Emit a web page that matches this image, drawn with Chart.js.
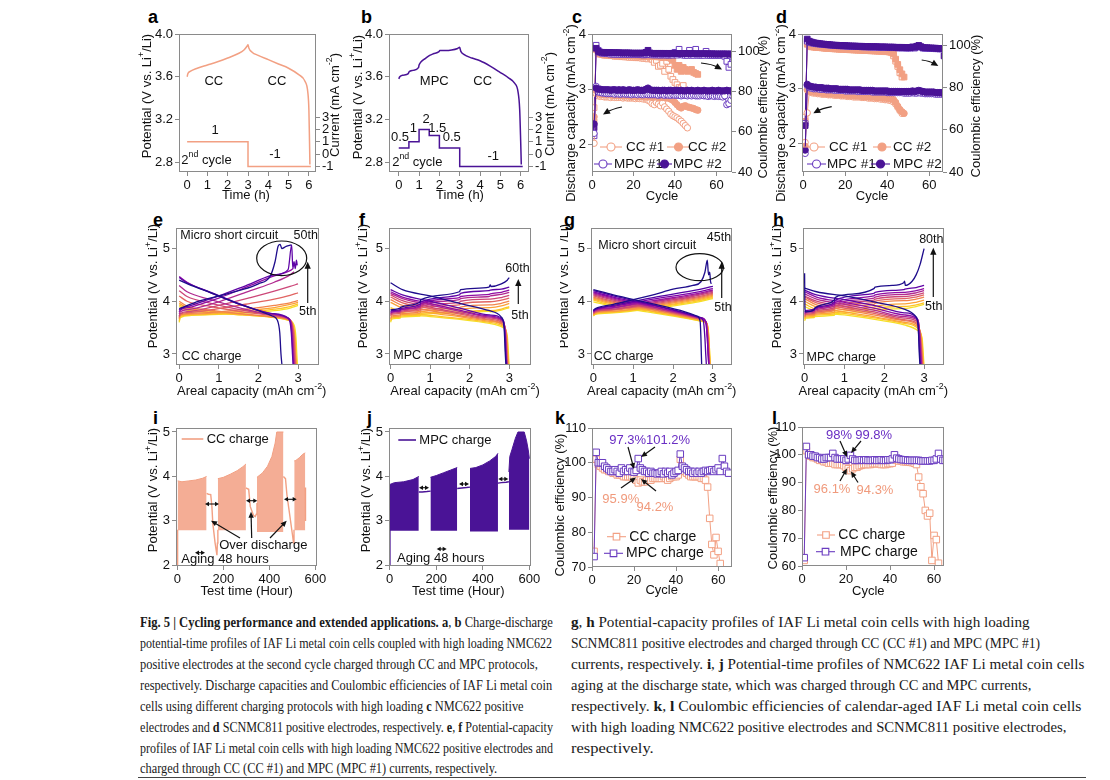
<!DOCTYPE html>
<html><head><meta charset="utf-8">
<script src="https://cdn.jsdelivr.net/npm/chart.js@4.4.1/dist/chart.umd.min.js"></script>
<style>
html,body{margin:0;padding:0;background:#fff;}
body{width:1110px;height:780px;position:relative;overflow:hidden;}
canvas{position:absolute;}
.pl{position:absolute;font:bold 18px "Liberation Sans",Arial,sans-serif;line-height:18px;color:#000;}
.cl{position:absolute;font-family:"Liberation Serif","Times New Roman",serif;font-size:14.5px;line-height:20px;white-space:nowrap;color:#1a1a1a;transform-origin:0 50%;}
.rule{position:absolute;height:1px;background:#444;}
</style></head><body>
<div class="pl" style="left:148px;top:8px">a</div>
<div class="pl" style="left:361px;top:8px">b</div>
<div class="pl" style="left:572px;top:8px">c</div>
<div class="pl" style="left:776px;top:8px">d</div>
<div class="pl" style="left:153px;top:211px">e</div>
<div class="pl" style="left:359px;top:211px">f</div>
<div class="pl" style="left:564px;top:211px">g</div>
<div class="pl" style="left:773px;top:211px">h</div>
<div class="pl" style="left:153px;top:409px">i</div>
<div class="pl" style="left:367px;top:409px">j</div>
<div class="pl" style="left:555px;top:409px">k</div>
<div class="pl" style="left:772px;top:409px">l</div>

<div class="cl" data-end="553" style="left:140px;top:612px"><b>Fig. 5 | Cycling performance and extended applications. a</b>, <b>b</b> Charge-discharge</div>
<div class="cl" data-end="552" style="left:140px;top:633px">potential-time profiles of IAF Li metal coin cells coupled with high loading NMC622</div>
<div class="cl" data-end="538" style="left:140px;top:654px">positive electrodes at the second cycle charged through CC and MPC protocols,</div>
<div class="cl" data-end="552" style="left:140px;top:675px">respectively. Discharge capacities and Coulombic efficiencies of IAF Li metal coin</div>
<div class="cl" data-end="524" style="left:140px;top:696px">cells using different charging protocols with high loading <b>c</b> NMC622 positive</div>
<div class="cl" data-end="553" style="left:140px;top:717px">electrodes and <b>d</b> SCNMC811 positive electrodes, respectively. <b>e</b>, <b>f</b> Potential-capacity</div>
<div class="cl" data-end="553" style="left:140px;top:738px">profiles of IAF Li metal coin cells with high loading NMC622 positive electrodes and</div>
<div class="cl" data-end="497" style="left:140px;top:758px">charged through CC (CC #1) and MPC (MPC #1) currents, respectively.</div>

<div class="cl" data-end="1030" style="left:571px;top:612px"><b>g</b>, <b>h</b> Potential-capacity profiles of IAF Li metal coin cells with high loading</div>
<div class="cl" data-end="1040" style="left:571px;top:633px">SCNMC811 positive electrodes and charged through CC (CC #1) and MPC (MPC #1)</div>
<div class="cl" data-end="1084" style="left:571px;top:654px">currents, respectively. <b>i</b>, <b>j</b> Potential-time profiles of NMC622 IAF Li metal coin cells</div>
<div class="cl" data-end="1031" style="left:571px;top:675px">aging at the discharge state, which was charged through CC and MPC currents,</div>
<div class="cl" data-end="1081" style="left:571px;top:696px">respectively. <b>k</b>, <b>l</b> Coulombic efficiencies of calendar-aged IAF Li metal coin cells</div>
<div class="cl" data-end="1066" style="left:571px;top:717px">with high loading NMC622 positive electrodes and SCNMC811 positive electrodes,</div>
<div class="cl" data-end="654" style="left:571px;top:738px">respectively.</div>
<div class="rule" style="left:138px;top:777px;width:948px"></div>

<script>
// ================= DATA =================
// a, b : potential (V) vs time (h) and current (mA cm-2) vs time
const A_V = [[0,3.6],[0.04,3.63],[0.15,3.65],[0.5,3.68],[1,3.71],[1.5,3.74],[2,3.775],[2.5,3.815],[2.8,3.85],[2.95,3.885],[3.0,3.9],[3.04,3.87],[3.2,3.83],[3.5,3.8],[4,3.76],[4.5,3.72],[5,3.68],[5.5,3.62],[5.8,3.56],[5.95,3.45],[6.0,3.29],[6.03,3.0],[6.05,2.78]];
const A_I = [[0,1],[3,1],[3,-1],[6.1,-1]];
const B_V = [[0,3.58],[0.05,3.6],[0.2,3.615],[0.47,3.63],[0.5,3.645],[0.7,3.66],[0.97,3.685],[1.0,3.71],[1.1,3.74],[1.3,3.77],[1.48,3.795],[1.52,3.8],[1.7,3.815],[1.98,3.835],[2.02,3.845],[2.3,3.845],[2.6,3.85],[2.9,3.865],[3.0,3.875],[3.05,3.84],[3.2,3.81],[3.6,3.775],[4.0,3.75],[4.5,3.7],[5.0,3.64],[5.4,3.59],[5.7,3.54],[5.87,3.46],[5.95,3.3],[6.0,3.0],[6.03,2.78]];
const B_I = [[0,0.5],[0.5,0.5],[0.5,1],[1,1],[1,2],[1.5,2],[1.5,1.5],[2,1.5],[2,0.5],[3,0.5],[3,-1],[6.1,-1]];

// c : discharge capacity (mAh cm-2) and CE (%) per cycle (cycle = index+1), NMC622
const C_CAP_CC1 = [2.02,2.92,2.88,2.87,2.87,2.86,2.86,2.86,2.85,2.86,2.85,2.85,2.85,2.85,2.84,2.85,2.84,2.84,2.84,2.84,2.83,2.84,2.83,2.83,2.82,2.82,2.8,2.78,2.74,2.72,2.76,2.73,2.7,2.75,2.68,2.64,2.6,2.55,2.52,2.5,2.48,2.45,2.42,2.38,2.34,2.3];
const C_CAP_CC2 = [2.5,2.98,2.92,2.91,2.91,2.9,2.9,2.9,2.9,2.89,2.89,2.89,2.89,2.88,2.88,2.88,2.88,2.88,2.87,2.87,2.87,2.87,2.87,2.87,2.86,2.86,2.86,2.86,2.86,2.86,2.86,2.85,2.85,2.85,2.85,2.84,2.84,2.82,2.8,2.76,2.72,2.68,2.66,2.69,2.7,2.68,2.67,2.66,2.65,2.63,2.62];
const C_CAP_MPC1 = [2.2,3.05,2.95,2.94,2.93,2.93,2.92,2.92,2.92,2.92,2.91,2.92,2.91,2.91,2.92,2.91,2.91,2.91,2.9,2.91,2.91,2.9,2.91,2.9,2.9,2.91,2.9,2.9,2.9,2.9,2.9,2.89,2.9,2.9,2.89,2.9,2.89,2.89,2.9,2.89,2.89,2.89,2.88,2.89,2.89,2.88,2.89,2.88,2.89,2.88,2.88,2.88,2.89,2.88,2.88,2.87,2.88,2.88,2.87,2.88,2.87,2.87,2.86,2.88,2.72,2.74,2.8,2.87];
const C_CAP_MPC2 = [2.37,3.02,3.0,3.0,2.99,2.99,2.99,2.99,2.98,2.99,2.99,2.98,2.99,2.98,2.99,2.98,2.98,2.99,2.98,2.98,2.98,2.99,2.98,2.98,2.98,3.0,3.02,2.99,2.98,2.98,2.98,2.98,2.97,2.98,2.98,2.97,2.98,2.98,2.97,2.98,2.98,2.97,2.98,2.97,2.97,2.98,2.97,2.98,2.97,2.97,2.98,2.97,2.97,2.98,2.97,2.97,2.97,2.98,2.97,2.97,2.98,2.97,2.97,2.97,2.98,2.97,2.97,2.98];
const C_CE_CC1 = [72,101,99,98.5,98.5,98,98,98,97.8,97.8,97.5,97.5,97.5,97.3,97.3,97.2,97.2,97,97,97,96.8,96.8,96.8,96.6,96.5,96.5,96.2,96.7,96,94.5,95.5,92.5,93,94,90,95,91,87.6,86,84.5,83.4,82,81.8,83,80.5,79.5];
const C_CE_CC2 = [65,101,99,98.8,98.5,98.5,98.3,98.3,98.2,98.2,98,98,98,97.9,97.9,97.8,97.8,97.8,97.7,97.7,97.6,97.6,97.6,97.5,97.5,97.5,97.4,97.4,97.4,97.3,97.3,97.2,97.2,97.2,97.1,97,96.8,96.5,95.5,93,91,93,90,92,91,90,90.5,91,89.5,89,88.5];
const C_CE_MPC1 = [58,103,100.5,99.5,99,99,98.8,98.8,98.6,98.6,98.5,98.5,98.5,98.4,98.5,98.4,98.4,98.3,98.4,98.3,98.4,98.3,98.3,98.3,98.2,98.3,99,98.3,98.2,98.2,98.2,98.2,98.1,98.2,98.2,98.1,98.1,98.2,98.1,99.5,98.1,101,98.4,98.1,98,98,100.5,98,98,101,98,98,98,98,100,98,97.9,98,97.9,98,97.9,98,98.5,97.5,95,92,93.5,97];
const C_CE_MPC2 = [62,101.5,100,99.6,99.5,99.5,99.4,99.4,99.4,99.3,99.3,99.3,99.3,99.2,99.2,99.2,99.2,99.2,99.1,99.1,99.1,99.1,99.1,99.1,99.1,99.5,100.5,99.2,99,99,99,99,99,99,99,98.9,99,98.9,99,98.9,98.9,98.9,98.9,98.9,98.9,98.9,98.8,98.9,98.8,98.8,98.8,98.8,98.8,98.8,98.8,98.8,98.7,98.8,98.7,98.7,98.7,98.7,98.7,98.7,98.7,98.6,98.7,98.6];

// d : same for SCNMC811
const D_CAP_CC1 = [2.02,2.56,2.95,2.93,2.92,2.92,2.91,2.91,2.9,2.9,2.9,2.89,2.89,2.89,2.88,2.88,2.88,2.87,2.87,2.87,2.86,2.86,2.86,2.85,2.85,2.85,2.85,2.84,2.84,2.84,2.83,2.83,2.83,2.82,2.82,2.82,2.81,2.81,2.8,2.8,2.79,2.78,2.76,2.72,2.66,2.6,2.55];
const D_CAP_CC2 = [1.95,2.98,2.96,2.95,2.94,2.94,2.93,2.93,2.92,2.92,2.92,2.91,2.91,2.91,2.9,2.9,2.9,2.89,2.89,2.89,2.88,2.88,2.88,2.88,2.87,2.87,2.87,2.86,2.86,2.86,2.86,2.85,2.85,2.85,2.84,2.84,2.84,2.83,2.83,2.83,2.82,2.82,2.8,2.75,2.68,2.62,2.58,2.55];
const D_CAP_MPC1 = [1.82,3.06,3.02,3.01,3.0,3.0,3.0,2.99,2.99,2.99,2.98,2.98,2.98,2.98,2.97,2.97,2.97,2.97,2.97,2.96,2.96,2.96,2.96,2.96,2.96,2.95,2.95,2.95,2.95,2.95,2.95,2.95,2.94,2.94,2.94,2.94,2.94,2.94,2.94,2.93,2.93,2.93,2.93,2.93,2.93,2.93,2.93,2.92,2.92,2.92,2.92,2.93,2.92,2.92,2.93,2.92,2.92,2.91,2.91,2.91,2.91,2.91,2.9,2.9,2.9,2.9,2.89,2.88];
const D_CAP_MPC2 = [1.88,3.08,3.05,3.04,3.03,3.03,3.02,3.02,3.02,3.01,3.01,3.01,3.0,3.0,3.0,3.0,2.99,2.99,2.99,2.99,2.99,2.98,2.98,2.98,2.98,2.98,2.98,2.97,2.97,2.97,2.97,2.97,2.97,2.96,2.96,2.96,2.96,2.96,2.96,2.96,2.95,2.95,2.95,2.95,2.95,2.95,2.95,2.95,2.95,2.95,2.95,2.96,2.95,2.96,2.97,2.96,2.95,2.94,2.94,2.94,2.94,2.94,2.93,2.93,2.93,2.93,2.92,2.9];
const D_CE_CC1 = [66,101,99.5,99.3,99.2,99,99,98.9,98.8,98.7,98.6,98.5,98.5,98.4,98.3,98.3,98.2,98.1,98.1,98,98,97.9,97.9,97.8,97.8,97.7,97.7,97.6,97.6,97.5,97.5,97.4,97.4,97.3,97.3,97.2,97.2,97.1,97,97,96.8,96.5,95,92.5,90,87,85];
const D_CE_CC2 = [64,100.5,99.8,99.5,99.3,99.2,99.1,99,98.9,98.8,98.7,98.7,98.6,98.5,98.5,98.4,98.3,98.3,98.2,98.2,98.1,98.1,98,98,97.9,97.9,97.8,97.8,97.7,97.7,97.6,97.6,97.5,97.5,97.4,97.4,97.3,97.3,97.2,97.2,97.1,97,96,93.5,91,88.5,86.5,85];
const D_CE_MPC1 = [63,102,101.5,101.2,101,100.8,100.7,100.6,100.5,100.4,100.3,100.2,100.1,100,100,99.9,99.8,99.8,99.7,99.7,99.6,99.6,99.5,99.5,99.4,99.4,99.4,99.3,99.3,99.3,99.2,99.2,99.2,99.1,99.1,99.1,99,99,99,99,98.9,98.9,98.9,98.9,98.8,98.8,98.8,98.8,98.7,98.7,98.7,99,98.7,99.3,99.5,99.2,98.7,98.6,98.6,98.5,98.5,98.5,98.4,98.4,98.3,98.3,98.2,98];
const D_CE_MPC2 = [62,103,102,101.6,101.3,101.1,101,100.8,100.7,100.6,100.5,100.4,100.3,100.2,100.1,100.1,100,100,99.9,99.9,99.8,99.8,99.7,99.7,99.7,99.6,99.6,99.6,99.5,99.5,99.5,99.4,99.4,99.4,99.4,99.3,99.3,99.3,99.3,99.2,99.2,99.2,99.2,99.1,99.1,99.1,99.1,99,99,99,99,99.3,99.1,99.6,100,99.4,99,98.9,98.9,98.8,98.8,98.7,98.7,98.6,98.6,98.5,95,98.3];

// e : CC charge, NMC622 (cycles 5..50); [capacity, potential]
const E_CYCLES = [5,10,15,20,25,30,35,40,45,50];
const E_CHG = [
 [[0,3.6],[0.03,3.69],[0.3,3.73],[1,3.75],[1.8,3.78],[2.4,3.82],[2.8,3.87],[3,3.92]],
 [[0,3.63],[0.03,3.71],[0.3,3.74],[1,3.76],[1.8,3.8],[2.4,3.85],[2.8,3.9],[3,3.95]],
 [[0,3.66],[0.03,3.73],[0.3,3.75],[1,3.78],[1.8,3.83],[2.4,3.88],[2.8,3.94],[3,3.98]],
 [[0,3.68],[0.03,3.74],[0.3,3.77],[1,3.8],[1.8,3.86],[2.4,3.92],[2.8,3.97],[3,4.01]],
 [[0,3.7],[0.03,3.76],[0.3,3.79],[1,3.86],[1.8,3.96],[2.4,4.04],[2.8,4.11],[3,4.16]],
 [[0,3.72],[0.03,3.77],[0.3,3.81],[1,3.92],[1.8,4.07],[2.4,4.19],[2.8,4.28],[3,4.33]],
 [[0,3.76],[0.03,3.8],[0.3,3.85],[1,3.99],[1.8,4.2],[2.4,4.36],[2.8,4.5],[2.9,4.56]],
 [[0,3.8],[0.03,3.83],[0.3,3.89],[1,4.06],[1.8,4.3],[2.4,4.48],[2.8,4.58],[2.88,4.62]],
 [[0,3.83],[0.03,3.85],[0.3,3.92],[1,4.1],[1.8,4.33],[2.4,4.5],[2.75,4.6],[2.84,5.07],[2.87,4.62],[2.9,4.75],[2.93,4.62],[2.96,4.78],[2.98,4.68]],
 [[0,3.86],[0.5,4.0],[1,4.1],[1.5,4.2],[2,4.33],[2.3,4.48],[2.42,4.75],[2.5,5.05],[2.55,5.08],[2.59,5.0],[2.7,5.04],[2.83,5.07]]
];
const E_DIS = [
 [[0,3.9],[0.2,3.83],[0.8,3.78],[1.6,3.74],[2.3,3.7],[2.75,3.64],[2.9,3.55],[2.95,3.3],[2.97,3.0],[2.99,2.75]],
 [[0,3.93],[0.2,3.85],[0.8,3.79],[1.6,3.74],[2.3,3.7],[2.75,3.64],[2.88,3.55],[2.93,3.3],[2.95,3.0],[2.97,2.75]],
 [[0,3.96],[0.2,3.88],[0.8,3.81],[1.6,3.75],[2.3,3.71],[2.75,3.65],[2.87,3.55],[2.92,3.3],[2.94,3.0],[2.96,2.75]],
 [[0,4.0],[0.2,3.91],[0.8,3.83],[1.6,3.76],[2.3,3.71],[2.75,3.65],[2.86,3.56],[2.91,3.3],[2.93,3.0],[2.95,2.75]],
 [[0,4.1],[0.2,4.0],[0.8,3.9],[1.6,3.8],[2.3,3.73],[2.75,3.66],[2.85,3.57],[2.9,3.3],[2.92,3.0],[2.94,2.75]],
 [[0,4.2],[0.2,4.09],[0.8,3.96],[1.6,3.83],[2.3,3.74],[2.75,3.67],[2.84,3.58],[2.88,3.3],[2.9,3.0],[2.92,2.75]],
 [[0,4.3],[0.2,4.18],[0.8,4.03],[1.6,3.86],[2.3,3.75],[2.75,3.68],[2.83,3.58],[2.87,3.3],[2.89,3.0],[2.91,2.75]],
 [[0,4.47],[0.2,4.36],[0.8,4.16],[1.6,3.92],[2.3,3.77],[2.75,3.68],[2.82,3.58],[2.85,3.3],[2.87,3.0],[2.89,2.75]],
 [[0,4.45],[0.2,4.35],[0.8,4.17],[1.6,3.93],[2.3,3.77],[2.75,3.68],[2.81,3.55],[2.84,3.3],[2.86,3.0],[2.88,2.75]],
 [[0,4.4],[0.3,4.3],[0.8,4.16],[1.4,3.98],[2.0,3.82],[2.35,3.72],[2.48,3.64],[2.54,3.4],[2.57,3.0],[2.6,2.75]]
];

// f : MPC charge, NMC622 (cycles 5..60)
const F_CYCLES = [5,10,15,20,25,30,40,45,50,60];
const F_CHG = [
 [[0,3.6],[0.03,3.66],[0.24,3.68],[0.26,3.7],[0.74,3.72],[0.77,3.75],[1.74,3.78],[1.77,3.78],[2.49,3.81],[2.52,3.8],[2.8,3.83],[3,3.88]],
 [[0,3.63],[0.03,3.68],[0.24,3.7],[0.26,3.72],[0.74,3.74],[0.77,3.77],[1.74,3.8],[1.77,3.8],[2.49,3.83],[2.52,3.82],[2.8,3.85],[3,3.9]],
 [[0,3.66],[0.03,3.7],[0.24,3.72],[0.26,3.74],[0.74,3.77],[0.77,3.8],[1.74,3.84],[1.77,3.85],[2.49,3.88],[2.52,3.88],[2.8,3.91],[3,3.96]],
 [[0,3.69],[0.03,3.72],[0.24,3.74],[0.26,3.76],[0.74,3.8],[0.77,3.83],[1.74,3.88],[1.77,3.89],[2.49,3.93],[2.52,3.93],[2.8,3.96],[3,4.0]],
 [[0,3.72],[0.03,3.75],[0.24,3.77],[0.26,3.79],[0.74,3.83],[0.77,3.87],[1.74,3.93],[1.77,3.95],[2.49,3.99],[2.52,3.99],[2.8,4.02],[3,4.06]],
 [[0,3.74],[0.03,3.77],[0.24,3.79],[0.26,3.81],[0.74,3.86],[0.77,3.9],[1.74,3.98],[1.77,4.0],[2.49,4.04],[2.52,4.04],[2.8,4.07],[3,4.11]],
 [[0,3.76],[0.03,3.79],[0.24,3.81],[0.26,3.83],[0.74,3.89],[0.77,3.93],[1.74,4.03],[1.77,4.05],[2.49,4.09],[2.52,4.1],[2.8,4.13],[3,4.17]],
 [[0,3.78],[0.03,3.8],[0.24,3.82],[0.26,3.84],[0.74,3.91],[0.77,3.96],[1.74,4.07],[1.77,4.09],[2.49,4.13],[2.52,4.14],[2.8,4.17],[3,4.21]],
 [[0,3.8],[0.03,3.82],[0.24,3.84],[0.26,3.86],[0.74,3.94],[0.77,3.99],[1.74,4.12],[1.77,4.15],[2.49,4.2],[2.52,4.21],[2.8,4.23],[3,4.27]],
 [[0,3.83],[0.03,3.84],[0.24,3.87],[0.26,3.89],[0.74,3.98],[0.77,4.03],[1.74,4.18],[1.77,4.22],[2.49,4.27],[2.52,4.31],[2.54,4.28],[2.8,4.33],[2.95,4.4],[3,4.45]]
];
const F_DIS = [
 [[0,3.85],[0.3,3.76],[1,3.71],[1.8,3.65],[2.5,3.58],[2.85,3.5],[2.95,3.35],[2.98,3.0],[3.0,2.75]],
 [[0,3.88],[0.3,3.79],[1,3.73],[1.8,3.67],[2.5,3.6],[2.85,3.52],[2.94,3.35],[2.97,3.0],[2.99,2.75]],
 [[0,3.98],[0.3,3.87],[1,3.78],[1.8,3.7],[2.5,3.62],[2.85,3.54],[2.93,3.35],[2.96,3.0],[2.98,2.75]],
 [[0,4.03],[0.3,3.92],[1,3.82],[1.8,3.72],[2.5,3.64],[2.85,3.56],[2.93,3.35],[2.95,3.0],[2.97,2.75]],
 [[0,4.08],[0.3,3.97],[1,3.86],[1.8,3.75],[2.5,3.66],[2.85,3.58],[2.92,3.35],[2.94,3.0],[2.96,2.75]],
 [[0,4.12],[0.3,4.01],[1,3.89],[1.8,3.77],[2.5,3.68],[2.85,3.6],[2.91,3.35],[2.93,3.0],[2.95,2.75]],
 [[0,4.15],[0.3,4.05],[1,3.93],[1.8,3.8],[2.5,3.7],[2.85,3.62],[2.9,3.35],[2.92,3.0],[2.94,2.75]],
 [[0,4.18],[0.3,4.08],[1,3.96],[1.8,3.82],[2.5,3.72],[2.85,3.63],[2.9,3.35],[2.92,3.0],[2.94,2.75]],
 [[0,4.22],[0.3,4.12],[1,4.0],[1.8,3.86],[2.5,3.74],[2.85,3.64],[2.89,3.35],[2.91,3.0],[2.93,2.75]],
 [[0,4.35],[0.3,4.22],[1,4.1],[1.8,3.95],[2.5,3.82],[2.8,3.7],[2.87,3.5],[2.9,3.0],[2.92,2.75]]
];

// g : CC charge, SCNMC811 (cycles 5..45)
const G_CHG = [
 [[0,3.72],[0.05,3.75],[0.5,3.78],[1.5,3.86],[2.5,3.97],[3,4.05]],
 [[0,3.73],[0.05,3.76],[0.5,3.79],[1.5,3.88],[2.5,3.99],[3,4.07]],
 [[0,3.74],[0.05,3.77],[0.5,3.8],[1.5,3.89],[2.5,4.01],[3,4.09]],
 [[0,3.75],[0.05,3.78],[0.5,3.81],[1.5,3.91],[2.5,4.03],[3,4.11]],
 [[0,3.76],[0.05,3.79],[0.5,3.83],[1.5,3.93],[2.5,4.05],[3,4.13]],
 [[0,3.77],[0.05,3.8],[0.5,3.84],[1.5,3.95],[2.5,4.07],[3,4.15]],
 [[0,3.78],[0.05,3.81],[0.5,3.85],[1.5,3.97],[2.5,4.09],[3,4.17]],
 [[0,3.79],[0.05,3.82],[0.5,3.87],[1.5,3.99],[2.5,4.11],[3,4.19]],
 [[0,3.8],[0.05,3.83],[0.5,3.88],[1.5,4.01],[2.5,4.13],[3,4.21]],
 [[0,3.81],[0.05,3.84],[0.5,3.9],[1.5,4.04],[2.5,4.16],[3,4.24]],
 [[0,3.82],[0.05,3.85],[0.5,3.92],[1.5,4.07],[2.5,4.2],[3,4.28]],
 [[0,3.83],[0.05,3.86],[0.5,3.94],[1.5,4.12],[2.0,4.23],[2.5,4.3],[2.7,4.37],[2.8,4.55],[2.86,4.78],[2.89,4.5],[2.92,4.55],[2.94,4.38],[2.96,4.33]]
];
const G_DIS = [
 [[0,3.99],[0.5,3.9],[1.5,3.78],[2.3,3.68],[2.7,3.62],[2.86,3.55],[2.9,3.3],[2.92,3.0],[2.94,2.75]],
 [[0,4.02],[0.5,3.92],[1.5,3.8],[2.3,3.69],[2.7,3.63],[2.86,3.56],[2.9,3.3],[2.92,3.0],[2.94,2.75]],
 [[0,4.04],[0.5,3.94],[1.5,3.81],[2.3,3.7],[2.7,3.64],[2.85,3.57],[2.89,3.3],[2.91,3.0],[2.93,2.75]],
 [[0,4.06],[0.5,3.96],[1.5,3.83],[2.3,3.71],[2.7,3.65],[2.85,3.58],[2.89,3.3],[2.91,3.0],[2.93,2.75]],
 [[0,4.08],[0.5,3.98],[1.5,3.84],[2.3,3.72],[2.7,3.66],[2.84,3.58],[2.88,3.3],[2.9,3.0],[2.92,2.75]],
 [[0,4.1],[0.5,4.0],[1.5,3.86],[2.3,3.73],[2.7,3.66],[2.84,3.59],[2.88,3.3],[2.9,3.0],[2.92,2.75]],
 [[0,4.12],[0.5,4.02],[1.5,3.87],[2.3,3.74],[2.7,3.67],[2.83,3.6],[2.87,3.3],[2.89,3.0],[2.91,2.75]],
 [[0,4.14],[0.5,4.04],[1.5,3.89],[2.3,3.75],[2.7,3.68],[2.83,3.6],[2.87,3.3],[2.89,3.0],[2.91,2.75]],
 [[0,4.16],[0.5,4.06],[1.5,3.9],[2.3,3.76],[2.7,3.68],[2.82,3.61],[2.86,3.3],[2.88,3.0],[2.9,2.75]],
 [[0,4.18],[0.5,4.08],[1.5,3.92],[2.3,3.77],[2.7,3.69],[2.82,3.62],[2.86,3.3],[2.88,3.0],[2.9,2.75]],
 [[0,4.2],[0.5,4.1],[1.5,3.93],[2.3,3.78],[2.65,3.7],[2.76,3.63],[2.8,3.3],[2.82,3.0],[2.84,2.75]],
 [[0,4.22],[0.5,4.12],[1.5,3.95],[2.3,3.8],[2.6,3.72],[2.68,3.62],[2.7,3.3],[2.71,3.0],[2.72,2.75]]
];

// h : MPC charge, SCNMC811 (cycles 5..80)
const H_CHG = [
 [[0,3.63],[0.03,3.68],[0.24,3.69],[0.26,3.71],[0.74,3.73],[0.77,3.76],[1.74,3.81],[1.77,3.82],[2.49,3.86],[2.52,3.86],[2.8,3.9],[3,3.94]],
 [[0,3.66],[0.03,3.7],[0.24,3.71],[0.26,3.73],[0.74,3.76],[0.77,3.79],[1.74,3.85],[1.77,3.86],[2.49,3.9],[2.52,3.9],[2.8,3.93],[3,3.97]],
 [[0,3.68],[0.03,3.72],[0.24,3.73],[0.26,3.75],[0.74,3.79],[0.77,3.82],[1.74,3.89],[1.77,3.9],[2.49,3.95],[2.52,3.95],[2.8,3.98],[3,4.02]],
 [[0,3.7],[0.03,3.74],[0.24,3.75],[0.26,3.77],[0.74,3.82],[0.77,3.86],[1.74,3.94],[1.77,3.96],[2.49,4.01],[2.52,4.01],[2.8,4.04],[3,4.08]],
 [[0,3.72],[0.03,3.75],[0.24,3.77],[0.26,3.79],[0.74,3.85],[0.77,3.89],[1.74,3.98],[1.77,4.0],[2.49,4.05],[2.52,4.05],[2.8,4.08],[3,4.12]],
 [[0,3.74],[0.03,3.77],[0.24,3.79],[0.26,3.81],[0.74,3.88],[0.77,3.92],[1.74,4.02],[1.77,4.04],[2.49,4.09],[2.52,4.09],[2.8,4.12],[3,4.16]],
 [[0,3.76],[0.03,3.79],[0.24,3.81],[0.26,3.83],[0.74,3.91],[0.77,3.95],[1.74,4.06],[1.77,4.08],[2.49,4.13],[2.52,4.13],[2.8,4.16],[3,4.2]],
 [[0,3.78],[0.03,3.8],[0.24,3.83],[0.26,3.85],[0.74,3.94],[0.77,3.98],[1.74,4.1],[1.77,4.12],[2.49,4.17],[2.52,4.17],[2.8,4.2],[3,4.24]],
 [[0,3.8],[0.03,3.82],[0.24,3.85],[0.26,3.87],[0.74,3.97],[0.77,4.02],[1.74,4.15],[1.77,4.17],[2.49,4.22],[2.52,4.23],[2.8,4.26],[3,4.3]],
 [[0,4.53],[0.01,3.85],[0.03,3.8],[0.24,3.84],[0.26,3.87],[0.74,4.02],[0.77,4.07],[1.0,4.12],[1.74,4.24],[1.77,4.27],[2.2,4.3],[2.49,4.35],[2.51,4.38],[2.53,4.3],[2.7,4.38],[2.8,4.5],[2.9,4.7],[3,5.0]]
];
const H_DIS = [
 [[0,3.9],[0.3,3.8],[1,3.74],[1.8,3.65],[2.5,3.55],[2.85,3.44],[2.95,3.3],[2.98,3.0],[3.0,2.75]],
 [[0,3.95],[0.3,3.84],[1,3.77],[1.8,3.68],[2.5,3.58],[2.85,3.48],[2.94,3.3],[2.97,3.0],[2.99,2.75]],
 [[0,4.0],[0.3,3.89],[1,3.8],[1.8,3.7],[2.5,3.6],[2.85,3.51],[2.93,3.3],[2.96,3.0],[2.98,2.75]],
 [[0,4.05],[0.3,3.93],[1,3.84],[1.8,3.73],[2.5,3.63],[2.85,3.54],[2.92,3.3],[2.95,3.0],[2.97,2.75]],
 [[0,4.08],[0.3,3.97],[1,3.87],[1.8,3.76],[2.5,3.65],[2.85,3.57],[2.91,3.3],[2.94,3.0],[2.96,2.75]],
 [[0,4.1],[0.3,4.0],[1,3.9],[1.8,3.79],[2.5,3.68],[2.85,3.6],[2.9,3.3],[2.93,3.0],[2.95,2.75]],
 [[0,4.14],[0.3,4.04],[1,3.94],[1.8,3.82],[2.5,3.71],[2.85,3.63],[2.9,3.3],[2.92,3.0],[2.94,2.75]],
 [[0,4.18],[0.3,4.08],[1,3.98],[1.8,3.86],[2.5,3.74],[2.85,3.65],[2.89,3.3],[2.91,3.0],[2.93,2.75]],
 [[0,4.21],[0.3,4.12],[1,4.03],[1.8,3.91],[2.5,3.78],[2.82,3.68],[2.87,3.3],[2.89,3.0],[2.91,2.75]],
 [[0,4.25],[0.3,4.18],[1,4.1],[1.8,3.98],[2.5,3.85],[2.78,3.72],[2.85,3.55],[2.88,3.0],[2.9,2.75]]
];

// i, j : potential vs test time (h); upper envelope of the dense cycling bands, lower bound, and connecting traces
const I_UP = [
 [[1,3.9],[20,3.88],[50,3.9],[80,3.92],[110,3.96],[127,4.0]],
 [[176,3.95],[200,3.98],[230,4.05],[260,4.13],[285,4.22],[298,4.28]],
 [[346,3.98],[370,4.08],[392,4.23],[411,4.45],[425,4.75],[432,5.0],[461,5.0]],
 [[508,4.35],[515,4.36],[530,4.42],[545,4.5],[556,4.53]]
];
const I_LOW = [2.79,2.79,2.75,2.79];
const I_LINKS = [
 [[0.5,2.0],[1,2.8]],
 [[127,3.62],[135,3.6],[145,3.59],[150,3.33],[154,2.95],[164,2.5],[172,2.23],[174,2.5],[176,2.8]],
 [[298,3.74],[310,3.71],[317,3.32],[331,3.12],[339,3.1],[343,3.15],[346,3.4]],
 [[461,4.0],[470,3.95],[476,3.6],[484,3.3],[492,3.0],[500,2.7],[505,2.5],[507,2.8]],
 [[556,3.75],[557,3.0]]
];
const J_UP = [
 [[1,3.82],[20,3.86],[60,3.88],[100,3.93],[125,4.0]],
 [[175,3.98],[200,4.02],[230,4.08],[260,4.14],[290,4.2]],
 [[345,4.18],[370,4.2],[400,4.26],[430,4.35],[455,4.45],[465,4.52]],
 [[512,4.1],[516,4.45],[525,4.6],[540,4.86],[551,5.0],[578,5.0],[588,4.8],[595,4.6],[600,4.4]]
];
const J_LOW = [2.78,2.78,2.76,2.8];
const J_LINKS = [
 [[0.5,2.0],[1,3.8]],
 [[125,3.65],[140,3.65],[160,3.66],[176,3.67]],
 [[290,3.73],[310,3.74],[330,3.75],[345,3.76]],
 [[465,3.85],[480,3.86],[500,3.87],[512,3.88]]
];

// k, l : Coulombic efficiency (%) per cycle (cycle = index+1)
const K_CC = [74.5,101,99.5,99,98.5,98,98,97.5,97.5,97,97,96.5,96.5,96.5,96,96,96,96,95.9,95.5,95,94.2,95,94.5,94.5,95,95,95,95.5,95.5,95.5,95.5,95.5,96,95.5,95,95.5,96,96,96,96.5,101,98,97.5,97,96.5,96,96,96,96,96,95.5,95.5,95,93,84,76.5,73.5,78.5,74.5,71];
const K_MPC = [73,103,100,100,100,99,98.5,98,97.5,97.5,98,97.5,97,98.5,97.5,98,97.5,98.5,97.5,97.3,97.8,101.2,98.5,98,97.5,97.5,97,97.5,97,97,96.8,97,97.5,96.8,97.5,97,97.5,96.5,97,97.5,97.8,102.5,99,98.5,98,97.5,97.5,97,97.5,97,97.5,97,97.5,97.8,97.5,97.8,98,97.5,98,98.5,97.5,101.2,99,97.5,97];
const L_CC = [62,101.5,100,99.5,99,99,98.5,98,98,97.5,97.5,97,97,97,96.5,96.5,96.5,96.5,96.1,95.5,95,94.3,95,95.5,95.5,96,96.2,96.5,96.5,96.5,96.5,96.8,96.8,96.8,96.8,96.5,96.5,96.5,96.8,96.8,97,98.5,98,97.8,97.8,97.5,97.5,97.5,97.3,97.2,97,96.5,92,88.5,86,80,78,79,62,71,69.5,61];
const L_MPC = [63,103,100,100,99.5,99.5,99,99,98.5,98.5,99,99,99,100.5,99,98.5,98.5,98.5,98.5,98,98.5,99.8,98.5,98,98,98,98.2,98,98.2,98,98,98,98.2,98,98,98.2,98,98,98.2,98.2,98.5,100,98.8,98.5,98.3,98.2,98.2,98,98,98,98,98,98,97.8,97.8,97.8,97.8,97.8,98,98,98.5,100.5,98.5,98,98];

// tick values
const A_XT=[0,1,2,3,4,5,6], A_YT=[2.8,3.2,3.6,4.0], A_Y2T=[-1,0,1,2,3];
const C_XT=[0,20,40,60], C_YT=[2,3,4], C_Y2T=[40,60,80,100];
const E_XT=[0,1,2,3], E_YT=[3,4,5];
const I_XT=[0,200,400,600], I_YT=[2,3,4,5];
const K_XT=[0,20,40,60], K_YT=[70,80,90,100,110], L_YT=[60,70,80,90,100,110];

// ================= STYLE / HELPERS =================
const SAL='#F2A083', SAL_FILL='rgba(242,160,131,0.86)', PUR='#4A1396', PUR2='#6A3CC0', GRAY='#8a8a8a', TXT='#111';
const FONT='"Liberation Sans", Arial, Helvetica, sans-serif';
const PAL10=['#F6E027','#FDC328','#FBA238','#F2844B','#E16462','#CC4778','#B12A90','#8F0DA4','#5F04A6','#1E0C8C'];
const PAL12=['#F5E026','#FDCD26','#FDB32F','#F99A3E','#EE7E50','#DE6065','#CB4778','#B7318A','#9C179E','#7E03A8','#5302A3','#1E0C8C'];
Chart.defaults.font.family=FONT; Chart.defaults.color=TXT;

function parseRich(s){const out=[];const re=/\^\{([^}]*)\}/g;let last=0,m;while((m=re.exec(s))){if(m.index>last)out.push([s.slice(last,m.index),0]);out.push([m[1],1]);last=re.lastIndex;}if(last<s.length)out.push([s.slice(last),0]);return out;}
function txt(ctx,s,x,y,o){o=o||{};const size=o.size||13,rot=o.rot||0,align=o.align||'center';const segs=parseRich(s);
 const F=sz=>`${o.bold?'bold ':''}${sz}px ${FONT}`;let w=0;segs.forEach(([t,sup])=>{ctx.font=F(sup?size*0.68:size);w+=ctx.measureText(t).width;});
 ctx.save();ctx.translate(x,y);ctx.rotate(rot);ctx.fillStyle=o.color||TXT;ctx.textBaseline='middle';ctx.textAlign='left';
 let cx=align==='center'?-w/2:(align==='right'?-w:0);
 segs.forEach(([t,sup])=>{ctx.font=F(sup?size*0.68:size);ctx.fillText(t,cx,sup?-size*0.38:0);cx+=ctx.measureText(t).width;});ctx.restore();}
function head(ctx,x,y,ang,len,wid){ctx.beginPath();ctx.moveTo(x,y);ctx.lineTo(x-len*Math.cos(ang)+wid*Math.sin(ang),y-len*Math.sin(ang)-wid*Math.cos(ang));ctx.lineTo(x-len*Math.cos(ang)-wid*Math.sin(ang),y-len*Math.sin(ang)+wid*Math.cos(ang));ctx.closePath();ctx.fill();}
function arrow(ctx,x1,y1,x2,y2,len){len=len||6;ctx.save();ctx.strokeStyle='#111';ctx.fillStyle='#111';ctx.lineWidth=1.2;const a=Math.atan2(y2-y1,x2-x1);ctx.beginPath();ctx.moveTo(x1,y1);ctx.lineTo(x2-len*0.8*Math.cos(a),y2-len*0.8*Math.sin(a));ctx.stroke();head(ctx,x2,y2,a,len,len*0.45);ctx.restore();}
function carrow(ctx,x1,y1,cx,cy,x2,y2){ctx.save();ctx.strokeStyle='#111';ctx.fillStyle='#111';ctx.lineWidth=1.2;const a=Math.atan2(y2-cy,x2-cx);ctx.beginPath();ctx.moveTo(x1,y1);ctx.quadraticCurveTo(cx,cy,x2-4*Math.cos(a),y2-4*Math.sin(a));ctx.stroke();head(ctx,x2,y2,a,7,3.2);ctx.restore();}
function dbl(ctx,x1,x2,y){ctx.save();ctx.strokeStyle='#111';ctx.fillStyle='#111';ctx.lineWidth=1.1;ctx.beginPath();ctx.moveTo(x1+3,y);ctx.lineTo(x2-3,y);ctx.stroke();head(ctx,x2,y,0,4,2.2);head(ctx,x1,y,Math.PI,4,2.2);ctx.restore();}
function mark(ctx,x,y,style,color,filled,r){ctx.save();ctx.strokeStyle=color;ctx.fillStyle=filled?color:'#fff';ctx.lineWidth=1.1;ctx.beginPath();
 if(style==='circle')ctx.arc(x,y,r,0,Math.PI*2);else ctx.rect(x-r,y-r,2*r,2*r);ctx.fill();ctx.stroke();ctx.restore();}
function leg(ctx,x1,x2,y,color,style,filled,r,label,tx,size){ctx.save();ctx.strokeStyle=color;ctx.lineWidth=1.1;ctx.beginPath();ctx.moveTo(x1,y);ctx.lineTo(x2,y);ctx.stroke();ctx.restore();mark(ctx,(x1+x2)/2,y,style,color,filled,r);txt(ctx,label,tx,y,{align:'left',size:size||13.5});}
function ellipse(ctx,cx,cy,rx,ry){ctx.save();ctx.strokeStyle='#111';ctx.lineWidth=1.2;ctx.beginPath();ctx.ellipse(cx,cy,rx,ry,0,0,Math.PI*2);ctx.stroke();ctx.restore();}

const P=a=>a.map(p=>({x:p[0],y:p[1]}));
const S=a=>a.map((v,i)=>({x:i+1,y:v}));
function curve(pts,color,w){return {data:P(pts),borderColor:color,borderWidth:w||1.3,pointRadius:0,fill:false,cubicInterpolationMode:'monotone'};}
function series(arr,color,style,filled,axis,r){return {data:S(arr),yAxisID:axis,borderColor:color,borderWidth:1,pointStyle:style,pointRadius:r,pointBorderWidth:1,pointBorderColor:color,pointBackgroundColor:filled?color:'#fff',fill:false};}

function axisCfg(ax,pos,fit){return {type:'linear',position:pos,min:ax.min,max:ax.max,
 afterBuildTicks:s=>{s.ticks=ax.ticks.map(v=>({value:v}));},afterFit:fit,
 grid:{drawOnChartArea:false,drawTicks:true,tickLength:4,color:GRAY,lineWidth:1},border:{display:false},
 ticks:{autoSkip:false,maxRotation:0,minRotation:0,padding:2,color:TXT,font:{size:13,family:FONT},callback:(v,i)=>ax.dec!=null?Number(ax.ticks[i]).toFixed(ax.dec):String(ax.ticks[i])}};}

function mk(sp){
 const c=document.createElement('canvas');const W=sp.x1-sp.x0,H=sp.y1-sp.y0;
 c.width=W;c.height=H;c.style.left=sp.x0+'px';c.style.top=sp.y0+'px';c.style.width=W+'px';c.style.height=H+'px';document.body.appendChild(c);
 const [l,t,r,b]=sp.plot;
 const scales={x:axisCfg(sp.x,'bottom',s=>{s.height=sp.y1-b;s.paddingLeft=0;s.paddingRight=0;}),
               y:axisCfg(sp.y,'left',s=>{s.width=l-sp.x0;s.paddingTop=0;s.paddingBottom=0;})};
 if(sp.y2)scales.y2=axisCfg(sp.y2,'right',s=>{s.width=sp.x1-r;s.paddingTop=0;s.paddingBottom=0;});
 const deco={id:'deco'+Math.random().toString(36).slice(2),afterDraw(ch){const ctx=ch.ctx,a=ch.chartArea;ctx.save();ctx.strokeStyle=GRAY;ctx.lineWidth=1;
   ctx.strokeRect(Math.round(a.left)+0.5,Math.round(a.top)+0.5,Math.round(a.right-a.left)-1,Math.round(a.bottom-a.top)-1);ctx.restore();
   ctx.save();ctx.translate(-sp.x0,-sp.y0);(sp.titles||[]).forEach(T=>txt(ctx,T[0],T[1],T[2],{rot:T[3]?-Math.PI/2:0,size:13}));if(sp.ann)sp.ann(ctx);ctx.restore();}};
 const ds=sp.datasets.map((d,i,arr)=>Object.assign({order:arr.length-i},d));
 return new Chart(c,{type:'line',data:{datasets:ds},options:{responsive:false,animation:false,devicePixelRatio:1,events:[],
   layout:{padding:{top:t-sp.y0,left:0,bottom:0,right:sp.y2?0:sp.x1-r}},
   plugins:{legend:{display:false},tooltip:{enabled:false}},elements:{line:{tension:0}},scales},plugins:[deco]});
}
const POT='Potential (V vs. Li^{+}/Li)';

// ================= PANELS =================
mk({x0:136,x1:345,y0:25,y1:205,plot:[179,34,316,172],
 x:{min:-0.4,max:6.35,ticks:A_XT},y:{min:2.71,max:4.0,ticks:A_YT,dec:1},y2:{min:-1.45,max:9.72,ticks:A_Y2T},
 datasets:[Object.assign(curve(A_V,SAL,1.5),{yAxisID:'y'}),Object.assign(curve(A_I,SAL,1.5),{yAxisID:'y2',cubicInterpolationMode:'default'})],
 titles:[[POT,147,96,1],['Time (h)',246,195,0],['Current (mA cm^{-2})',335,105,1]],
 ann:ctx=>{const o={size:13};txt(ctx,'CC',213.8,81,o);txt(ctx,'CC',277,81,o);txt(ctx,'1',215,130,o);txt(ctx,'-1',275,154.3,o);txt(ctx,'2^{nd} cycle',206.5,160,o);}});
mk({x0:346,x1:560,y0:25,y1:205,plot:[389,34,529,172],
 x:{min:-0.48,max:6.41,ticks:A_XT},y:{min:2.71,max:4.0,ticks:A_YT,dec:1},y2:{min:-1.45,max:9.72,ticks:A_Y2T},
 datasets:[Object.assign(curve(B_V,PUR,1.5),{yAxisID:'y'}),Object.assign(curve(B_I,PUR,1.5),{yAxisID:'y2',cubicInterpolationMode:'default'})],
 titles:[[POT,358,97,1],['Time (h)',460,195,0],['Current (mA cm^{-2})',550,104,1]],
 ann:ctx=>{const o={size:13};txt(ctx,'0.5',400,137.7,o);txt(ctx,'1',413.3,128.3,o);txt(ctx,'2',426,119,o);txt(ctx,'1.5',437.3,128.3,o);txt(ctx,'0.5',451.7,137.7,o);txt(ctx,'-1',493.3,156,o);txt(ctx,'2^{nd} cycle',417.3,162,o);txt(ctx,'MPC',434.3,81.7,o);txt(ctx,'CC',482.7,81.7,o);}});
mk({x0:560,x1:775,y0:25,y1:205,plot:[592,34,732,172],
 x:{min:0,max:67.5,ticks:C_XT},y:{min:1.5,max:4,ticks:C_YT},y2:{min:40,max:108.6,ticks:C_Y2T},
 datasets:[series(C_CE_CC1,SAL,'rect',false,'y2',4),series(C_CE_CC2,SAL,'rect',true,'y2',4),series(C_CE_MPC1,PUR2,'rect',false,'y2',4),series(C_CE_MPC2,PUR,'rect',true,'y2',4),
  series(C_CAP_CC1,SAL,'circle',false,'y',3.2),series(C_CAP_CC2,SAL,'circle',true,'y',3.2),series(C_CAP_MPC1,PUR2,'circle',false,'y',3.2),series(C_CAP_MPC2,PUR,'circle',true,'y',3.2)],
 titles:[['Discharge capacity (mAh cm^{-2})',571.7,113,1],['Cycle',662,196.7,0],['Coulombic efficiency (%)',763,107,1]],
 ann:ctx=>{leg(ctx,600,622,147,SAL,'circle',false,4,'CC #1',626);leg(ctx,667,690,147,SAL,'circle',true,4,'CC #2',688);
  leg(ctx,594,612,164,PUR2,'circle',false,4,'MPC #1',614);leg(ctx,657,672,164,PUR,'circle',true,4,'MPC #2',673);
  carrow(ctx,622,107,612,109,603,114.5);carrow(ctx,701,63,712,64,722,69.5);}});
mk({x0:775,x1:990,y0:25,y1:205,plot:[802,34,943,172],
 x:{min:-0.5,max:66.5,ticks:C_XT},y:{min:1.48,max:4,ticks:C_YT},y2:{min:40,max:105.4,ticks:C_Y2T},
 datasets:[series(D_CE_CC1,SAL,'rect',false,'y2',4),series(D_CE_CC2,SAL,'rect',true,'y2',4),series(D_CE_MPC1,PUR2,'rect',false,'y2',4),series(D_CE_MPC2,PUR,'rect',true,'y2',4),
  series(D_CAP_CC1,SAL,'circle',false,'y',3.2),series(D_CAP_CC2,SAL,'circle',true,'y',3.2),series(D_CAP_MPC1,PUR2,'circle',false,'y',3.2),series(D_CAP_MPC2,PUR,'circle',true,'y',3.2)],
 titles:[['Discharge capacity (mAh cm^{-2})',781.7,113,1],['Cycle',872,196.7,0],['Coulombic efficiency (%)',976.7,106,1]],
 ann:ctx=>{leg(ctx,803,825,147,SAL,'circle',false,4,'CC #1',829);leg(ctx,873,891,147,SAL,'circle',true,4,'CC #2',893);
  leg(ctx,807,826,164,PUR2,'circle',false,4,'MPC #1',827);leg(ctx,871,890,164,PUR,'circle',true,4,'MPC #2',893);
  carrow(ctx,831.7,106.7,822,108.5,813.3,113.3);carrow(ctx,921.7,60,930,61,938.3,66);}});

function cycSets(chg,dis,pal){const out=[];for(let i=0;i<chg.length;i++){out.push(curve(dis[i],pal[i],1.3));out.push(curve(chg[i],pal[i],1.3));}return out;}
const XT_AREAL='Areal capacity (mAh cm^{-2})';
mk({x0:145,x1:335,y0:215,y1:405,plot:[176,228,319,365],
 x:{min:-0.08,max:3.53,ticks:E_XT},y:{min:2.79,max:5.39,ticks:E_YT},datasets:cycSets(E_CHG,E_DIS,PAL10),
 titles:[[POT,153.3,286,1],[XT_AREAL,251.7,391.7,0]],
 ann:ctx=>{ellipse(ctx,281.7,258.3,25,17.3);txt(ctx,'Micro short circuit',229.3,236,{size:12.5});txt(ctx,'50th',305.7,236,{size:12.5});
  arrow(ctx,307.7,303,307.7,261.7,7);txt(ctx,'5th',307.7,311.7,{size:12.5});txt(ctx,'CC charge',211.7,356.7,{size:12.5});}});
mk({x0:355,x1:545,y0:215,y1:405,plot:[389,228,531,365],
 x:{min:-0.04,max:3.55,ticks:E_XT},y:{min:2.79,max:5.39,ticks:E_YT},datasets:cycSets(F_CHG,F_DIS,PAL10),
 titles:[[POT,363.3,286,1],[XT_AREAL,465,391.7,0]],
 ann:ctx=>{txt(ctx,'60th',517.5,268.3,{size:12.5});arrow(ctx,518.3,304,518.3,279,7);txt(ctx,'5th',520,315.7,{size:12.5});txt(ctx,'MPC charge',428,355.7,{size:12.5});}});
mk({x0:560,x1:750,y0:215,y1:405,plot:[591,228,732,365],
 x:{min:-0.06,max:3.48,ticks:E_XT},y:{min:2.79,max:5.39,ticks:E_YT},datasets:cycSets(G_CHG,G_DIS,PAL12),
 titles:[[POT,564,286,1],[XT_AREAL,661.7,391.7,0]],
 ann:ctx=>{ellipse(ctx,699.7,267.2,23.7,13.5);txt(ctx,'Micro short circuit',647.3,245.7,{size:12.5});txt(ctx,'45th',719,237.7,{size:12.5});
  arrow(ctx,721.7,298,721.7,261.7,7);txt(ctx,'5th',723,307.3,{size:12.5});txt(ctx,'CC charge',623.7,356.7,{size:12.5});}});
mk({x0:770,x1:960,y0:215,y1:405,plot:[803,228,944,365],
 x:{min:-0.04,max:3.5,ticks:E_XT},y:{min:2.79,max:5.39,ticks:E_YT},datasets:cycSets(H_CHG,H_DIS,PAL10),
 titles:[[POT,777.3,286,1],[XT_AREAL,873.3,391.7,0]],
 ann:ctx=>{txt(ctx,'80th',931.3,239.3,{size:12.5});arrow(ctx,933.3,297,933.3,247.7,7);txt(ctx,'5th',933.8,306.7,{size:12.5});txt(ctx,'MPC charge',841.3,357.3,{size:12.5});}});

function bandSets(up,low,links,color,fillc){const out=[];up.forEach((seg,k)=>out.push({data:P(seg),borderColor:color,borderWidth:1,backgroundColor:fillc,pointRadius:0,fill:{value:low[k]}}));
 links.forEach(ln=>out.push({data:P(ln),borderColor:color,borderWidth:1.4,pointRadius:0,fill:false}));return out;}
mk({x0:145,x1:335,y0:415,y1:605,plot:[176,428,317,566],
 x:{min:-6,max:607,ticks:I_XT},y:{min:1.985,max:5.09,ticks:I_YT},datasets:bandSets(I_UP,I_LOW,I_LINKS,SAL,SAL_FILL),
 titles:[[POT,153.3,490,1],['Test time (Hour)',246.7,591,0]],
 ann:ctx=>{ctx.save();ctx.strokeStyle=SAL;ctx.lineWidth=1.6;ctx.beginPath();ctx.moveTo(181.7,439);ctx.lineTo(203.3,439);ctx.stroke();ctx.restore();
  txt(ctx,'CC charge',206.7,439,{align:'left',size:13});dbl(ctx,205,219,504);dbl(ctx,246,257.3,500.7);dbl(ctx,284,296.7,499.3);
  txt(ctx,'Over discharge',263.3,545.7,{size:13});arrow(ctx,240,538,211,520.7);arrow(ctx,251.7,538,251,511.7);arrow(ctx,270,538,286.7,520.7);
  txt(ctx,'Aging 48 hours',225,559.3,{size:13});dbl(ctx,195,205,552.7);}});
mk({x0:355,x1:545,y0:415,y1:605,plot:[389,428,531,566],
 x:{min:-3,max:607,ticks:I_XT},y:{min:1.985,max:5.09,ticks:I_YT},datasets:bandSets(J_UP,J_LOW,J_LINKS,PUR,PUR),
 titles:[[POT,366.7,490,1],['Test time (Hour)',458.3,591,0]],
 ann:ctx=>{ctx.save();ctx.strokeStyle=PUR;ctx.lineWidth=1.6;ctx.beginPath();ctx.moveTo(398.3,440);ctx.lineTo(416,440);ctx.stroke();ctx.restore();
  txt(ctx,'MPC charge',419.3,440,{align:'left',size:13});dbl(ctx,419,429,487.7);dbl(ctx,459,469,484);dbl(ctx,498.3,508.3,479);
  txt(ctx,'Aging 48 hours',440.8,558.3,{size:13});dbl(ctx,436.7,446.7,549);}});
mk({x0:550,x1:745,y0:415,y1:605,plot:[592,428,732,567],
 x:{min:0,max:66.6,ticks:K_XT},y:{min:70,max:110,ticks:K_YT},
 datasets:[series(K_CC,SAL,'rect',false,'y',4.6),series(K_MPC,PUR2,'rect',false,'y',4.6)],
 titles:[['Coulombic efficiency (%)',560,505,1],['Cycle',661.7,590,0]],
 ann:ctx=>{const pu={color:'#6A2FC4',size:13},sa={color:'#F09A7C',size:13};
  txt(ctx,'97.3%',627.7,440.7,pu);txt(ctx,'101.2%',668,440.7,pu);arrow(ctx,628,447,634,469);arrow(ctx,655,447,641,457);
  txt(ctx,'95.9%',620.8,499,sa);txt(ctx,'94.2%',655,507.3,sa);arrow(ctx,621,488,636,477.5);arrow(ctx,656,491,641,479);
  leg(ctx,607,626,536.7,SAL,'rect',false,3.3,'CC charge',629.3,14);leg(ctx,604,623,553.3,PUR2,'rect',false,3.3,'MPC charge',626,14);}});
mk({x0:765,x1:960,y0:415,y1:605,plot:[802,427,944,566],
 x:{min:0,max:64.5,ticks:K_XT},y:{min:60,max:110,ticks:L_YT},
 datasets:[series(L_CC,SAL,'rect',false,'y',4.6),series(L_MPC,PUR2,'rect',false,'y',4.6)],
 titles:[['Coulombic efficiency (%)',773.3,498,1],['Cycle',868.3,591.7,0]],
 ann:ctx=>{const pu={color:'#6A2FC4',size:13},sa={color:'#F09A7C',size:13};
  txt(ctx,'98%',839,435,pu);txt(ctx,'99.8%',873.7,435,pu);arrow(ctx,840,441,847,457);arrow(ctx,861,441,851,453);
  txt(ctx,'96.1%',832,489.3,sa);txt(ctx,'94.3%',875,490.7,sa);arrow(ctx,840,481,847,468.5);arrow(ctx,858,482.5,851,471.5);
  leg(ctx,817,835,535,SAL,'rect',false,3.3,'CC charge',838.3,14);leg(ctx,816,835,551.7,PUR2,'rect',false,3.3,'MPC charge',840,14);}});

// caption: each line scaled horizontally to end where the reference line ends
document.querySelectorAll('.cl').forEach(el=>{const end=+el.dataset.end;const left=parseFloat(el.style.left);const nat=el.scrollWidth;if(nat>0)el.style.transform=`scaleX(${((end-left)/nat).toFixed(4)})`;});
</script>
</body></html>
